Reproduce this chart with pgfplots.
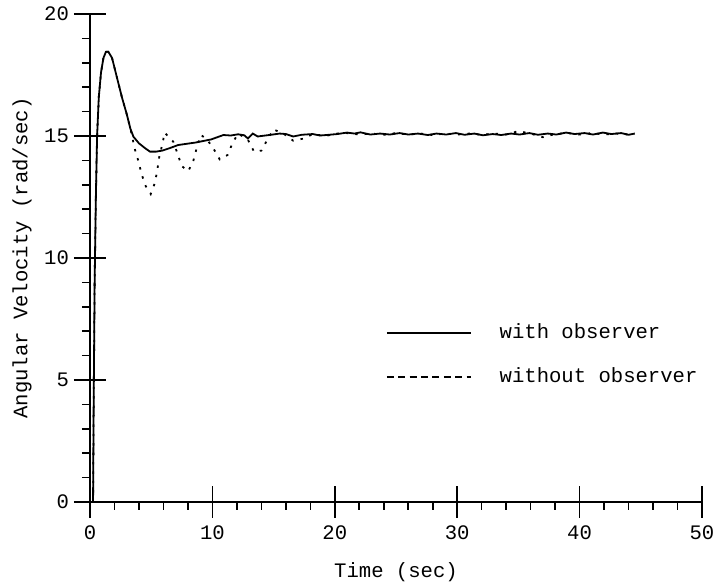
\documentclass[border=0pt]{standalone}
\usepackage{fontspec}
\setmainfont{Liberation Mono}
\usepackage{pgfplots}
\pgfplotsset{compat=1.18}
\begin{document}
\begin{tikzpicture}
\useasboundingbox (-45pt,-40.5pt) rectangle (311.5pt,251pt);
\begin{axis}[
  scale only axis,
  width=306pt, height=244pt,
  xmin=0, xmax=50, ymin=0, ymax=20,
  axis x line=bottom, axis y line=left,
  axis line style={-, line width=0.9pt},
  xtick={0,10,20,30,40,50},
  ytick={0,5,10,15,20},
  minor x tick num=4, minor y tick num=4,
  tick align=center,
  major tick length=16pt,
  minor tick length=4pt,
  every tick/.style={black, line width=0.8pt},
  minor x tick style={yshift=-2pt},
  minor y tick style={xshift=-2pt},
  font=\fontsize{10.3}{12}\selectfont,
  /pgf/number format/assume math mode=true,
  xticklabel style={yshift=-0.3pt},
  yticklabel style={xshift=1pt},
  xlabel={Time (sec)},
  ylabel={Angular Velocity (rad/sec)},
  xlabel style={at={(axis description cs:0.5,0)}, anchor=center, yshift=-35pt},
  ylabel style={at={(axis description cs:0,0.5)}, anchor=center, xshift=0pt, yshift=34pt},
  clip=false,
  legend cell align=left,
  legend style={draw=none, fill=none, at={(axis cs:23.65,7.65)}, anchor=north west,
    row sep=9pt, column sep=12pt, font=\fontsize{10.3}{12}\selectfont},
  legend image code/.code={\draw[#1] (0pt,0pt) -- (42pt,0pt);},
]
\addplot[black, line width=0.9pt] coordinates {
(0.25,0) (0.3,4) (0.38,9) (0.48,12.5) (0.58,15) (0.72,16.6) (0.9,17.6) (1.1,18.2) (1.3,18.45) (1.5,18.45) (1.8,18.2) (2.2,17.4) (2.6,16.6) (3.0,15.9) (3.3,15.3) (3.55,14.97) (4.0,14.7) (4.5,14.5) (4.9,14.36) (5.4,14.36) (5.9,14.4) (6.5,14.5) (7.2,14.63) (7.9,14.68) (8.6,14.73) (9.3,14.8) (9.9,14.86) (10.4,14.95) (10.9,15.04) (11.5,15.02) (12.1,15.07) (12.6,15.03) (12.9,14.9) (13.3,15.1) (13.7,14.98) (14.0,15.0) (14.8,15.05) (15.5,15.1) (16.0,15.08) (16.6,14.98) (17.3,15.05) (18.2,15.08) (18.8,15.02) (19.3,15.04) (20.2,15.08) (21.0,15.14) (21.6,15.1) (22.1,15.15) (22.9,15.06) (23.7,15.1) (24.5,15.06) (25.3,15.12) (26.0,15.06) (26.8,15.1) (27.6,15.04) (28.3,15.1) (29.1,15.06) (29.9,15.12) (30.6,15.05) (31.4,15.1) (32.1,15.03) (32.9,15.08) (33.6,15.04) (34.4,15.1) (35.1,15.06) (35.9,15.12) (36.6,15.05) (37.4,15.1) (38.1,15.06) (38.9,15.14) (39.6,15.08) (40.4,15.12) (41.1,15.06) (41.9,15.14) (42.6,15.08) (43.4,15.12) (44.0,15.05) (44.5,15.1)
};
\addlegendentry{with observer}
\addplot[black, line width=0.9pt, dash pattern=on 1.2pt off 3.5pt,
  legend image code/.code={\draw[black, line width=0.9pt, dash pattern=on 3.5pt off 2.2pt] (0pt,0pt) -- (42pt,0pt);}] coordinates {
(0.25,0) (0.3,4) (0.38,9) (0.48,12.5) (0.58,15) (0.72,16.6) (0.9,17.6) (1.1,18.2) (1.3,18.45) (1.5,18.45) (1.8,18.2) (2.2,17.4) (2.6,16.6) (3.0,15.9) (3.3,15.3) (3.68,14.43) (3.95,13.98) (4.22,13.43) (4.55,12.95) (4.96,12.62) (5.31,13.09) (5.5,13.61) (5.66,14.15) (5.91,14.66) (6.1,15.14) (6.8,14.77) (7.14,14.29) (7.49,13.77) (8.03,13.56) (8.44,13.98) (8.71,14.49) (9.04,15.04) (9.5,14.9) (10.08,14.49) (10.6,14.04) (11.24,14.22) (11.66,14.73) (12.1,15.1) (12.9,14.85) (13.4,14.36) (14.0,14.4) (14.5,14.86) (14.98,15.27) (15.8,15.1) (16.6,14.81) (17.5,14.9) (18.2,15.08) (19.2,15.0) (20.2,15.1) (21.0,15.12) (22.0,15.06) (23.0,15.1) (24.0,15.05) (25.0,15.12) (26.0,15.06) (27.0,15.1) (28.0,15.04) (29.0,15.1) (30.0,15.06) (31.0,15.1) (32.0,15.05) (33.0,15.1) (34.0,15.06) (35.0,15.2) (36.0,15.1) (37.0,14.95) (38.0,15.08) (39.0,15.12) (40.0,15.06) (41.0,15.12) (42.0,15.06) (43.0,15.1) (44.0,15.06) (44.5,15.1)
};
\addlegendentry{without observer}
\end{axis}
\end{tikzpicture}
\end{document}
